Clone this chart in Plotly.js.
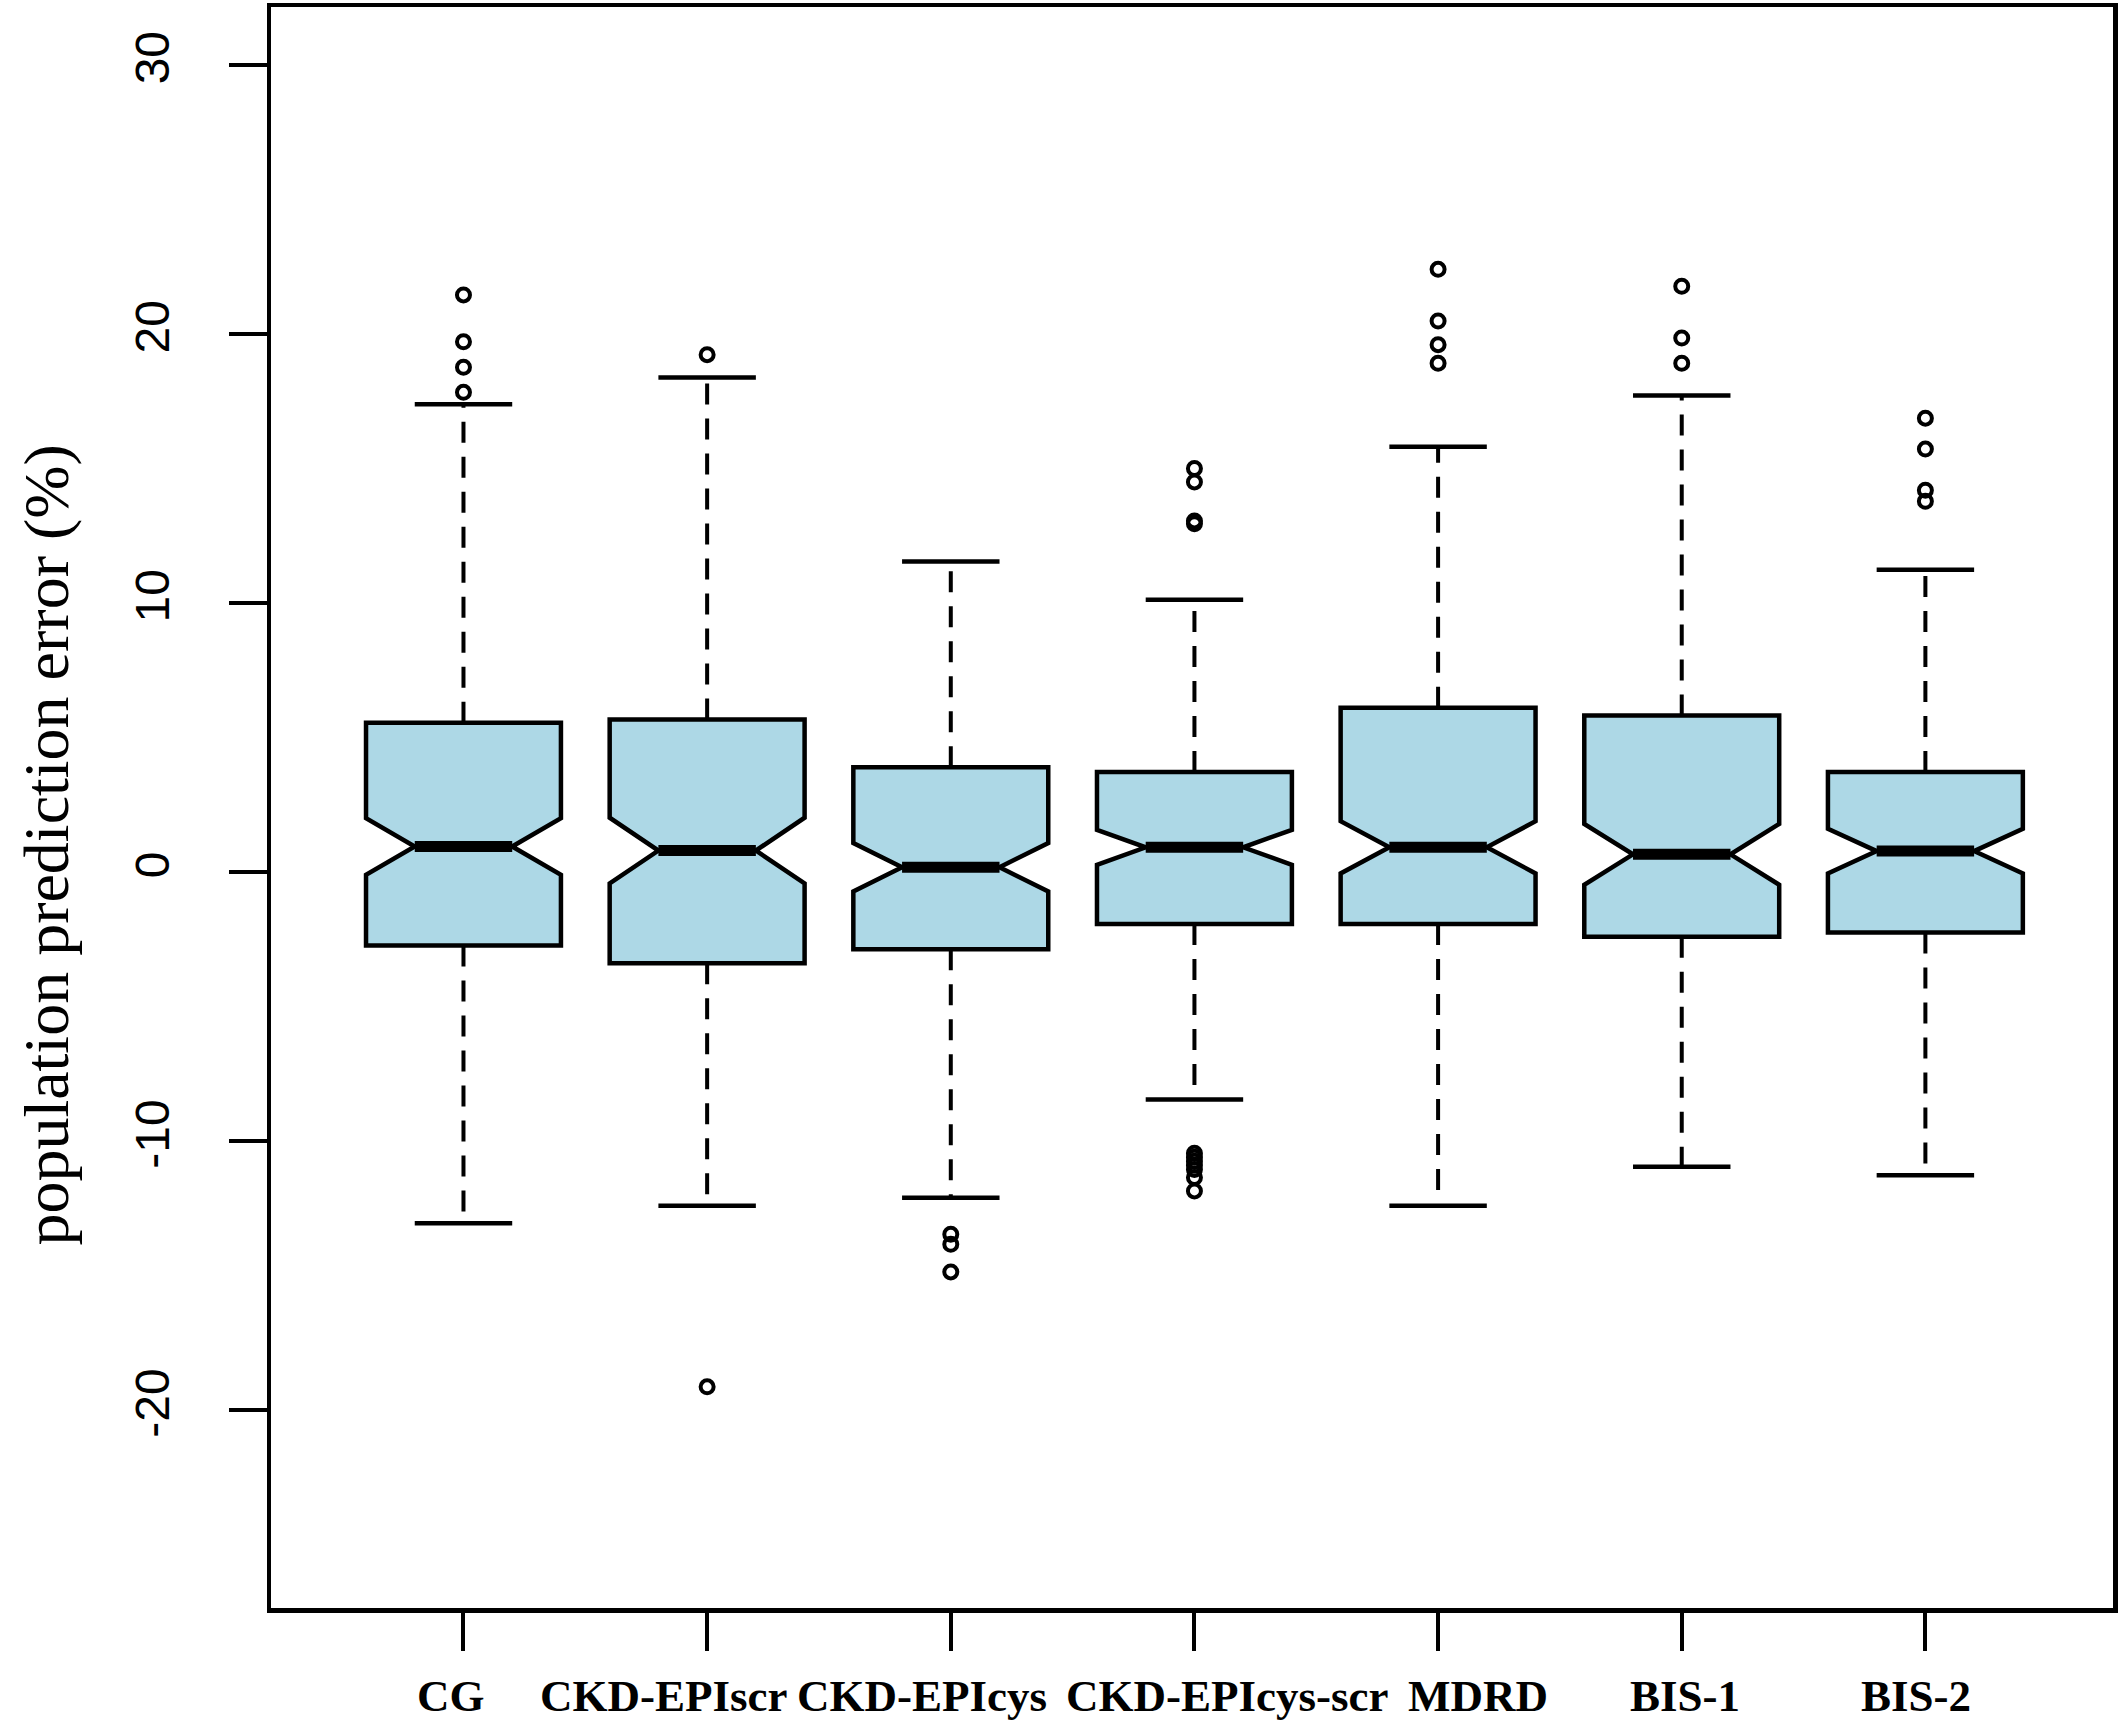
<!DOCTYPE html>
<html>
<head>
<meta charset="utf-8">
<script src="https://cdn.plot.ly/plotly-3.0.1.min.js"></script>
<style>html,body{margin:0;padding:0;background:#fff;}</style>
</head>
<body>
<div id="chart" style="width:2128px;height:1724px;"></div>
<script>
// ---- data ----
const categories    = ["CG", "CKD-EPIscr", "CKD-EPIcys", "CKD-EPIcys-scr", "MDRD", "BIS-1", "BIS-2"];
const lowerWhisker  = [-13.05, -12.40, -12.10, -8.45, -12.40, -10.95, -11.27];
const q1            = [-2.73, -3.39, -2.87, -1.93, -1.93, -2.40, -2.25];
const median        = [0.95, 0.80, 0.18, 0.92, 0.92, 0.66, 0.78];
const q3            = [5.55, 5.67, 3.90, 3.72, 6.11, 5.82, 3.72];
const upperWhisker  = [17.39, 18.38, 11.54, 10.12, 15.81, 17.71, 11.24];
const notchSpan     = [1.05, 1.22, 0.90, 0.65, 0.97, 1.13, 0.83];
const outliers = [
  [21.45, 19.71, 18.76, 17.83],
  [19.23, -19.13],
  [-13.46, -13.83, -14.86],
  [15.00, 14.50, 13.05, 12.95, -10.45, -10.60, -10.75, -10.90, -11.05, -11.35, -11.85],
  [22.40, 20.48, 19.60, 18.91],
  [21.77, 19.85, 18.91],
  [16.87, 15.72, 14.19, 13.78]
];
const yTicks = [-20, -10, 0, 10, 20, 30];
const yTitle = "population prediction error (%)";

// ---- layout / styling settings (not data) ----
const boxWidth = 0.8;
const capHalf = boxWidth * 0.25;
const medHalf = boxWidth * 0.25;
// horizontal pixel nudges of the category labels, as placed in the reference
const labelNudge = [-12, -44, -29, 33, 40, 3, -9];
const positions = categories.map((c, i) => i + 1);

const boxTrace = {
  type: 'box',
  x: positions,
  q1: q1,
  median: median,
  q3: q3,
  lowerfence: q1,
  upperfence: q3,
  notched: true,
  notchspan: notchSpan,
  notchwidth: 0.25,
  width: boxWidth,
  whiskerwidth: 0,
  boxpoints: false,
  fillcolor: '#ADD8E6',
  line: {color: '#000000', width: 4.5},
  hoverinfo: 'skip',
  showlegend: false
};

const wx = [], wy = [];
positions.forEach((p, i) => {
  wx.push(p, p, null, p, p, null);
  wy.push(q3[i], upperWhisker[i], null, q1[i], lowerWhisker[i], null);
});
const whiskerTrace = {
  type: 'scatter', mode: 'lines', x: wx, y: wy,
  line: {color: '#000000', width: 4, dash: '21px,14px'},
  hoverinfo: 'skip', showlegend: false
};

const cx = [], cy = [];
positions.forEach((p, i) => {
  cx.push(p - capHalf, p + capHalf, null, p - capHalf, p + capHalf, null);
  cy.push(upperWhisker[i], upperWhisker[i], null, lowerWhisker[i], lowerWhisker[i], null);
});
const capTrace = {
  type: 'scatter', mode: 'lines', x: cx, y: cy,
  line: {color: '#000000', width: 4.5},
  hoverinfo: 'skip', showlegend: false
};

const mx = [], my = [];
positions.forEach((p, i) => {
  mx.push(p - medHalf, p + medHalf, null);
  my.push(median[i], median[i], null);
});
const medianTrace = {
  type: 'scatter', mode: 'lines', x: mx, y: my,
  line: {color: '#000000', width: 11},
  hoverinfo: 'skip', showlegend: false
};

const ox = [], oy = [];
outliers.forEach((arr, i) => arr.forEach(v => { ox.push(positions[i]); oy.push(v); }));
const outlierTrace = {
  type: 'scatter', mode: 'markers', x: ox, y: oy,
  marker: {symbol: 'circle-open', size: 13, color: '#000000', line: {width: 4, color: '#000000'}},
  hoverinfo: 'skip', showlegend: false
};

const serif = 'Liberation Serif, Times New Roman, serif';
const annotations = categories.map((c, i) => ({
  text: c, xref: 'x', yref: 'paper', x: positions[i], y: 0,
  xanchor: 'center', yanchor: 'middle', xshift: labelNudge[i], yshift: -88,
  showarrow: false,
  font: {family: serif, size: 45, color: '#000000', weight: 'bold'}
}));
annotations.push({
  text: yTitle, xref: 'paper', yref: 'paper', x: -0.122, y: 0.477,
  xanchor: 'center', yanchor: 'middle', textangle: -90, showarrow: false,
  font: {family: serif, size: 64, color: '#000000'}
});

const layout = {
  width: 2128, height: 1724,
  margin: {l: 271, r: 15, t: 7, b: 116},
  paper_bgcolor: '#ffffff', plot_bgcolor: '#ffffff',
  showlegend: false,
  annotations: annotations,
  xaxis: {
    range: [0.21, 7.77],
    tickmode: 'array', tickvals: positions, ticktext: categories,
    showticklabels: false,
    ticks: 'outside', ticklen: 38, tickwidth: 4, tickcolor: '#000000',
    showline: true, linewidth: 4.5, linecolor: '#000000', mirror: true,
    showgrid: false, zeroline: false
  },
  yaxis: {
    range: [-27.35, 32.15],
    tickmode: 'array', tickvals: yTicks, ticktext: yTicks.map(String),
    ticks: 'outside', ticklen: 38, tickwidth: 4, tickcolor: '#000000',
    tickangle: -90,
    showline: true, linewidth: 4.5, linecolor: '#000000', mirror: true,
    showgrid: false, zeroline: false,
    tickfont: {family: 'Liberation Sans, Arial, sans-serif', size: 48, color: '#000000'},
    ticklabelstandoff: 40
  }
};

Plotly.newPlot('chart', [boxTrace, whiskerTrace, capTrace, medianTrace, outlierTrace], layout, {displayModeBar: false, staticPlot: true});
</script>
</body>
</html>
